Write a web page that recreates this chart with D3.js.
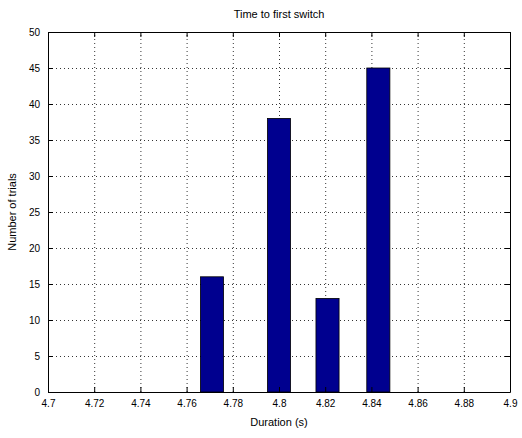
<!DOCTYPE html>
<html lang="en">
<head>
<meta charset="utf-8">
<title>Histogram</title>
<script src="https://d3js.org/d3.v7.min.js"></script>
<style>
  body { margin: 0; background: #fff; }
  .axis text { font-family: Arial, "Liberation Sans", sans-serif; font-size: 10px; fill: #000; }
  .axis path, .axis line { stroke: #000; }
  .grid line { stroke: #000; stroke-dasharray: 1,3; stroke-width: 0.8; }
  .grid path { display: none; }
</style>
</head>
<body>
<div id="chart"></div>
<script>
// values
var binCenters = [4.771, 4.80, 4.821, 4.843];
var counts = [16, 38, 13, 45];
var binWidth = 0.01;
var xTicks = [4.7, 4.72, 4.74, 4.76, 4.78, 4.8, 4.82, 4.84, 4.86, 4.88, 4.9];
var yTicks = [0, 5, 10, 15, 20, 25, 30, 35, 40, 45, 50];

var w = 522, h = 438;
var plotLeft = 48, plotRight = 510, plotTop = 32, plotBottom = 392;

var svg = d3.select("#chart").append("svg")
  .attr("width", w).attr("height", h);

var xScale = d3.scaleLinear().domain([4.7, 4.9]).range([plotLeft, plotRight]);
var yScale = d3.scaleLinear().domain([0, 50]).range([plotBottom, plotTop]);

// dotted grid
svg.append("g").attr("class", "grid")
  .attr("transform", "translate(0," + plotBottom + ")")
  .call(d3.axisBottom(xScale).tickValues(xTicks).tickSize(-(plotBottom - plotTop)).tickFormat(""));
svg.append("g").attr("class", "grid")
  .attr("transform", "translate(" + plotLeft + ",0)")
  .call(d3.axisLeft(yScale).tickValues(yTicks).tickSize(-(plotRight - plotLeft)).tickFormat(""));

// bars
svg.selectAll("rect.bar")
  .data(counts)
  .enter()
  .append("rect")
  .attr("class", "bar")
  .attr("x", function(d, i) { return xScale(binCenters[i] - binWidth / 2); })
  .attr("width", function(d, i) { return xScale(binCenters[i] + binWidth / 2) - xScale(binCenters[i] - binWidth / 2); })
  .attr("y", function(d) { return yScale(d); })
  .attr("height", function(d) { return plotBottom - yScale(d); })
  .style("fill", "#00008f")
  .style("stroke", "#000")
  .style("stroke-width", 0.8);

// axes, ticks inward
var xAxis = d3.axisBottom(xScale).tickValues(xTicks).tickSizeInner(-5).tickSizeOuter(0)
  .tickPadding(8).tickFormat(d3.format("~g"));
var yAxis = d3.axisLeft(yScale).tickValues(yTicks).tickSizeInner(-5).tickSizeOuter(0)
  .tickPadding(8);

svg.append("g").attr("class", "axis")
  .attr("transform", "translate(0," + plotBottom + ")").call(xAxis);
svg.append("g").attr("class", "axis")
  .attr("transform", "translate(" + plotLeft + ",0)").call(yAxis);
svg.append("g").attr("class", "axis")
  .attr("transform", "translate(0," + plotTop + ")")
  .call(d3.axisTop(xScale).tickValues(xTicks).tickSizeInner(-5).tickSizeOuter(0).tickFormat(""));
svg.append("g").attr("class", "axis")
  .attr("transform", "translate(" + plotRight + ",0)")
  .call(d3.axisRight(yScale).tickValues(yTicks).tickSizeInner(-5).tickSizeOuter(0).tickFormat(""));

// labels
svg.append("text")
  .attr("x", (plotLeft + plotRight) / 2).attr("y", 18)
  .attr("text-anchor", "middle")
  .style("font-family", "Arial, sans-serif").style("font-size", "11px")
  .text("Time to first switch");

svg.append("text")
  .attr("x", (plotLeft + plotRight) / 2).attr("y", 426)
  .attr("text-anchor", "middle")
  .style("font-family", "Arial, sans-serif").style("font-size", "11px")
  .text("Duration (s)");

svg.append("text")
  .attr("transform", "translate(16," + ((plotTop + plotBottom) / 2) + ") rotate(-90)")
  .attr("text-anchor", "middle")
  .style("font-family", "Arial, sans-serif").style("font-size", "11px")
  .text("Number of trials");
</script>
</body>
</html>
